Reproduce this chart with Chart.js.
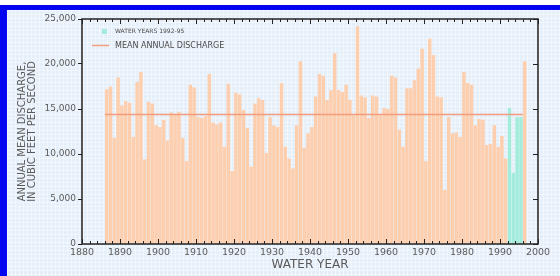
<!DOCTYPE html>
<html>
<head>
<meta charset="utf-8">
<script src="https://cdn.jsdelivr.net/npm/chart.js@4.4.0/dist/chart.umd.min.js"></script>
<style>
  html, body { margin: 0; padding: 0; background: #fff; }
  #frame {
    position: absolute; left: 0; top: 5px; width: 560px; height: 271px;
    box-sizing: border-box;
    border-top: 5px solid #0505f2; border-left: 7px solid #0505f2;
    background-color: #e5effa;
    background-image: linear-gradient(rgba(255,255,255,.45) 1px, transparent 1px),
                      linear-gradient(90deg, rgba(255,255,255,.45) 1px, transparent 1px);
    background-size: 4px 4px;
  }
  #wrap { position: absolute; left: 0; top: 0; width: 560px; height: 276px; }
</style>
</head>
<body>
<div id="frame"></div>
<div id="wrap"><canvas id="chart"></canvas></div>
<script>
// Annual mean discharge, water years 1886-1996
const firstYear = 1886;
const discharge = [
    17200, 17500, 11800, 18500, 15400, 15900, 15700, 11900, 18000, 19100, // 1886-1895
    9400, 15800, 15600, 13200, 13000, 13800, 11500, 14600, 14400, 14700, // 1896-1905
    11800, 9200, 17700, 17400, 14100, 14000, 14200, 18900, 13500, 13300, // 1906-1915
    13500, 10800, 17800, 8100, 16800, 16600, 14900, 12900, 8600, 15600, // 1916-1925
    16200, 16000, 10100, 14100, 13200, 13000, 17900, 10800, 9500, 8400, // 1926-1935
    13200, 20300, 10700, 12300, 13000, 16400, 18900, 18700, 16000, 17100, // 1936-1945
    21200, 17100, 16900, 17700, 16000, 14300, 24200, 16500, 16300, 14000, // 1946-1955
    16500, 16400, 14300, 15100, 15000, 18700, 18500, 12700, 10800, 17300, // 1956-1965
    17300, 18200, 19500, 21700, 9200, 22800, 21000, 16400, 16300, 6000, // 1966-1975
    14100, 12300, 12400, 11900, 19100, 17900, 17700, 13200, 13900, 13800, // 1976-1985
    11000, 11100, 13200, 10800, 12000, 9500, 15100, 7900, 14100, 14100, // 1986-1995
    20300 // 1996
];
const years = discharge.map((_, i) => firstYear + i);
const studyYears = [1992, 1993, 1994, 1995];
const meanDischarge = 14400;
const meanSpan = [1886, 1996];
const yTicks = [0, 5000, 10000, 15000, 20000, 25000];
const legendLabels = ['WATER YEARS 1992-95', 'MEAN ANNUAL DISCHARGE'];

const barColor = '#fdcfae';
const studyColor = '#a3ecdc';
const meanColor = '#f39d7e';
const axisColor = '#222222';
const textColor = '#5a5a5a';

const longTermData = [];
const studyData = [];
years.forEach((yr, i) => {
    const point = { x: yr + 0.5, y: discharge[i] };
    if (studyYears.includes(yr)) studyData.push(point);
    else longTermData.push(point);
});

// Frame, inward ticks and legend
const framePlugin = {
    id: 'frame',
    afterDraw(chart) {
        const ctx = chart.ctx;
        const a = chart.chartArea;
        const xs = chart.scales.x;
        const ys = chart.scales.y;
        ctx.save();
        ctx.strokeStyle = axisColor;
        ctx.lineWidth = 1.5;
        ctx.strokeRect(a.left, a.top, a.right - a.left, a.bottom - a.top);
        ctx.lineWidth = 1;
        ctx.beginPath();
        for (let yr = 1880; yr <= 2000; yr += 2) {
            const px = Math.round(xs.getPixelForValue(yr)) + 0.5;
            const len = yr % 10 === 0 ? 5 : 3;
            ctx.moveTo(px, a.top);
            ctx.lineTo(px, a.top + len);
            ctx.moveTo(px, a.bottom);
            ctx.lineTo(px, a.bottom - len);
        }
        yTicks.forEach(v => {
            const py = Math.round(ys.getPixelForValue(v)) + 0.5;
            ctx.moveTo(a.right, py);
            ctx.lineTo(a.right - 5, py);
        });
        ctx.stroke();

        // legend
        const lx = a.left + 33;
        ctx.fillStyle = studyColor;
        ctx.fillRect(a.left + 20, a.top + 10, 5, 5);
        ctx.strokeStyle = meanColor;
        ctx.lineWidth = 1.5;
        ctx.beginPath();
        ctx.moveTo(a.left + 10, a.top + 26.5);
        ctx.lineTo(a.left + 27, a.top + 26.5);
        ctx.stroke();
        ctx.fillStyle = '#4a4a4a';
        ctx.textBaseline = 'middle';
        ctx.font = '6px "DejaVu Sans"';
        ctx.fillText(legendLabels[0], lx, a.top + 12.5);
        ctx.font = '8px "DejaVu Sans"';
        ctx.fillText(legendLabels[1], lx, a.top + 26.5);
        ctx.restore();
    }
};

new Chart(document.getElementById('chart'), {
    data: {
        datasets: [
            {
                type: 'line',
                label: legendLabels[1],
                data: meanSpan.map(yr => ({ x: yr, y: meanDischarge })),
                borderColor: meanColor,
                borderWidth: 1.5,
                pointRadius: 0,
                order: 0
            },
            {
                type: 'bar',
                label: legendLabels[0],
                data: studyData,
                backgroundColor: studyColor,
                grouped: false,
                barPercentage: 0.92,
                categoryPercentage: 1,
                order: 1
            },
            {
                type: 'bar',
                label: 'Annual mean discharge',
                data: longTermData,
                backgroundColor: barColor,
                grouped: false,
                barPercentage: 0.92,
                categoryPercentage: 1,
                order: 2
            }
        ]
    },
    options: {
        responsive: true,
        maintainAspectRatio: false,
        animation: false,
        layout: { padding: { top: 19, right: 22, left: 0, bottom: 0 } },
        plugins: {
            legend: { display: false },
            tooltip: { enabled: false }
        },
        scales: {
            x: {
                type: 'linear',
                offset: false,
                min: 1880,
                max: 2000,
                afterFit: scale => { scale.height = 32; },
                grid: { display: false, drawTicks: false },
                border: { display: false },
                ticks: {
                    stepSize: 10,
                    padding: 3,
                    color: textColor,
                    font: { family: 'DejaVu Sans', size: 9.5 },
                    callback: v => String(v)
                },
                title: {
                    display: true,
                    text: 'WATER YEAR',
                    color: textColor,
                    font: { family: 'DejaVu Sans', size: 12, lineHeight: 1.2 },
                    padding: { top: 0, bottom: 4 }
                }
            },
            y: {
                min: 0,
                max: 25000,
                afterFit: scale => { scale.width = 82; },
                grid: { drawOnChartArea: false, drawTicks: true, tickLength: 4, color: axisColor },
                border: { display: false },
                ticks: {
                    stepSize: 5000,
                    padding: 2,
                    color: textColor,
                    font: { family: 'DejaVu Sans', size: 9 },
                    callback: v => v.toLocaleString('en-US')
                },
                title: {
                    display: true,
                    text: ['ANNUAL MEAN DISCHARGE,', 'IN CUBIC FEET PER SECOND'],
                    color: textColor,
                    font: { family: 'DejaVu Sans', size: 10, lineHeight: 1.0 },
                    padding: { top: 17, bottom: 0 }
                }
            }
        }
    },
    plugins: [framePlugin]
});
</script>
</body>
</html>
